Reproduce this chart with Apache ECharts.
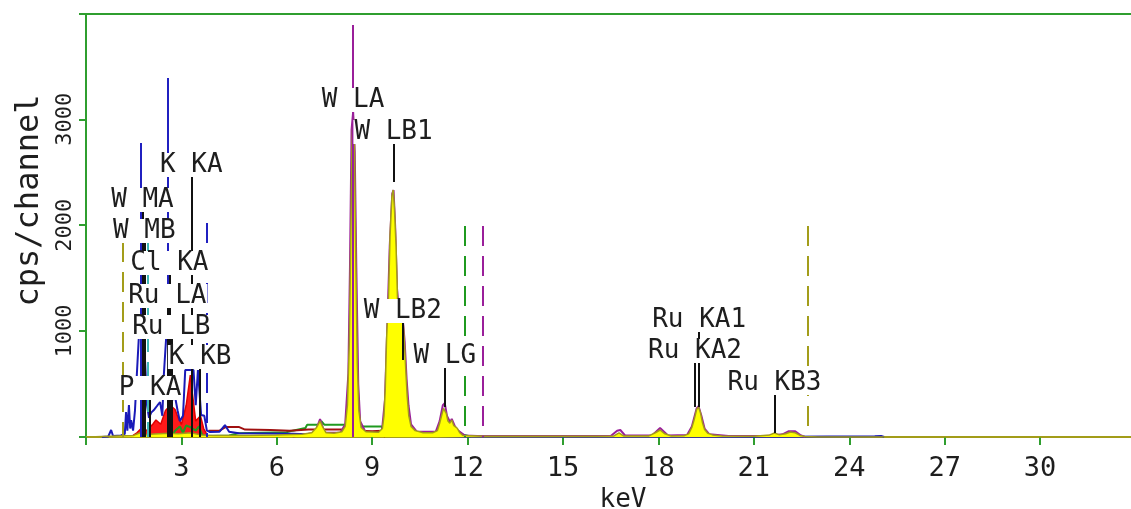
<!DOCTYPE html>
<html>
<head>
<meta charset="utf-8">
<title>EDS spectrum</title>
<script src="https://cdn.jsdelivr.net/npm/echarts@6/dist/echarts.min.js"></script>
<style>
  html, body { margin: 0; padding: 0; background: #fff; overflow: hidden; }
  #chart { width: 1160px; height: 509px; }
</style>
</head>
<body>
<div id="chart"></div>
<script>
// Energy axis ticks (keV) and count axis ticks (cps/channel)
const xTicks = [3, 6, 9, 12, 15, 18, 21, 24, 27, 30];
const yTicks = [1000, 2000, 3000];

// Main spectrum [keV, cps]
const specMain = [
  [0.1,0],[0.5,5],[1.0,10],[1.5,15],[1.7,40],[1.8,45],[1.9,20],[2.0,25],[2.3,30],[2.6,35],[2.9,30],
  [3.3,40],[3.6,20],[4.0,15],[5.0,15],[6.0,20],[6.8,25],[7.1,40],[7.25,90],[7.36,150],[7.45,90],
  [7.55,40],[7.8,35],[8.05,50],[8.15,100],[8.22,300],[8.28,900],[8.32,1750],[8.36,2700],[8.40,3070],
  [8.44,2750],[8.48,1750],[8.53,700],[8.58,250],[8.65,90],[8.8,50],[9.2,45],[9.32,80],[9.37,200],
  [9.41,450],[9.45,920],[9.51,1300],[9.56,1900],[9.62,2280],[9.66,2333],[9.70,2150],[9.75,1800],
  [9.80,1250],[9.84,1100],[9.88,1150],[9.93,1190],[9.98,1050],[10.02,850],[10.06,600],[10.1,380],
  [10.15,200],[10.22,100],[10.35,60],[10.6,40],[10.9,40],[11.05,60],[11.12,130],[11.18,200],
  [11.24,270],[11.28,283],[11.33,220],[11.38,150],[11.44,130],[11.5,160],[11.56,110],[11.62,95],
  [11.68,80],[11.75,40],[11.85,15],[12.5,8],[14,6],[16,6],[16.6,10],[16.76,38],[16.9,10],[17.7,10],
  [17.9,40],[18.05,66],[18.2,30],[18.4,10],[18.8,12],[18.95,30],[19.05,90],[19.12,160],[19.2,260],
  [19.26,283],[19.32,230],[19.38,140],[19.45,70],[19.55,35],[19.7,20],[20,10],[21,8],[21.5,20],
  [21.65,38],[21.8,20],[22.0,30],[22.15,47],[22.3,40],[22.45,15],[22.6,5],[23,0],[33.7,0]
];

// Overlay spectrum (purple)
const specPurple = [
  [6.5,5],[7.2,40],[7.36,170],[7.5,40],[8.0,40],[8.15,120],[8.25,600],[8.3,1600],[8.35,2900],
  [8.40,3070],[8.45,2700],[8.5,1600],[8.56,500],[8.62,150],[8.8,40],[9.3,40],[9.4,350],[9.47,1000],
  [9.55,1800],[9.63,2300],[9.67,2333],[9.72,2000],[9.78,1400],[9.85,1150],[9.95,1150],[10.02,900],
  [10.08,550],[10.14,300],[10.22,120],[10.4,50],[11.0,50],[11.12,150],[11.22,300],[11.28,320],
  [11.35,200],[11.45,140],[11.5,170],[11.6,100],[11.7,60],[11.9,15],[12.3,10],[16.5,10],[16.7,60],
  [16.8,66],[16.95,15],[17.8,15],[18.05,85],[18.3,15],[18.9,20],[19.05,100],[19.2,270],[19.26,290],
  [19.35,200],[19.45,80],[19.6,25],[20.2,10],[21.4,10],[21.9,25],[22.1,55],[22.3,55],[22.45,20],[22.6,0]
];

// Overlay spectrum (blue)
const specBlue = [
  [0.5,0],[0.7,5],[0.79,66],[0.85,10],[1.1,15],[1.22,30],[1.26,236],[1.3,60],[1.35,302],[1.39,80],
  [1.42,160],[1.48,60],[1.54,250],[1.6,600],[1.66,935],[1.8,935],[1.86,700],[1.92,300],[1.98,180],
  [2.05,230],[2.15,260],[2.25,300],[2.33,330],[2.4,200],[2.45,600],[2.52,935],[2.6,935],[2.66,500],
  [2.72,350],[2.8,380],[2.88,250],[2.95,150],[3.05,200],[3.12,633],[3.38,633],[3.45,300],[3.52,633],
  [3.58,633],[3.62,208],[3.72,200],[3.8,60],[3.9,47],[4.2,50],[4.37,113],[4.5,50],[4.8,35],[6.5,30],
  [8.0,15],[9.0,15],[9.35,20],[9.42,230],[9.46,20],[10.0,15],[11.0,10],[12.0,5],[20.7,3],[21.9,3],
  [24.8,8],[25.0,10],[25.1,0]
];

// Overlay spectrum (red, low energy)
const specRed = [
  [1.4,0],[1.6,40],[1.75,85],[1.9,60],[2.1,120],[2.2,160],[2.35,120],[2.5,250],[2.65,300],[2.8,260],
  [2.9,180],[3.0,120],[3.15,300],[3.28,585],[3.35,400],[3.45,150],[3.6,200],[3.7,80],[3.85,0]
];

// Overlay spectrum (dark red)
const specMaroon = [
  [3.85,60],[4.2,60],[4.4,95],[4.8,95],[5.0,70],[5.8,66],[6.4,60],[7.0,70],[8.0,72],[8.5,60],
  [9.0,55],[9.3,60],[9.4,0]
];

// Overlay spectrum (green)
const specGreen = [
  [2.7,0],[2.8,60],[2.95,100],[3.05,40],[3.15,110],[3.3,90],[3.45,60],[3.55,100],[3.65,20],[3.8,10],
  [4.5,15],[4.8,35],[5.5,40],[6.3,45],[6.5,60],[6.9,85],[6.95,115],[7.3,115],[7.4,150],[7.5,115],
  [8.2,115],[8.6,100],[9.3,100],[9.35,30],[10.3,45],[11.0,45],[11.5,40],[11.9,20],[12.1,5]
];

// Peak identification markers: name, energy (keV), label height, line end (cps)
const markNames  = ['W MA','W MB','K KA','Cl KA','Ru LA','Ru LB','K KB','P KA',
                    'W LA','W LB1','W LB2','W LG','Ru KA1','Ru KA2','Ru KB3'];
const markEnergy = [1.775,1.835,3.313,2.622,2.558,2.683,3.59,2.013,
                    8.396,9.67,9.96,11.28,19.28,19.15,21.65];
const markLabelY = [2238,1946,2569,1643,1332,1039,756,463,
                    3183,2880,1190,765,1105,812,510];
const markLineEnd = [0,0,0,0,0,0,0,0,
                     3070,2408,727,283,283,283,38];

// Reference lines: energy (keV), top (cps)
const blueRefs   = [[1.72,2777],[2.57,3391]];
const purpleRefs = [[8.40,3891]];
const redRefs    = [[3.32,1600]];
const dashRefsGreen  = [[11.92,1993]];
const dashRefsPurple = [[12.48,1993]];
const dashRefsOlive  = [[22.70,1993],[1.15,1842]];
const dashRefsBlue   = [[3.80,2021]];
const dashRefsTeal   = [[1.95,1842]];

const FONT = 'DejaVu Sans Mono';
const AXIS_GREEN = '#2f9e2f';
const OLIVE = '#a39d1a';

function vLines(list) {
  return list.map(function (d) { return { coords: [[d[0], d[1]], [d[0], 0]] }; });
}
function lineSeries(name, data, color, z, width) {
  return {
    name: name, type: 'line', data: data, symbol: 'none', z: z,
    lineStyle: { color: color, width: width || 1.5 }, animation: false, silent: true
  };
}
function refSeries(list, color, dashed, z, width) {
  return {
    type: 'lines', coordinateSystem: 'cartesian2d', z: z, silent: true, animation: false,
    lineStyle: { color: color, width: width || 2, type: dashed ? [20, 10] : 'solid', opacity: 1 },
    data: vLines(list)
  };
}

const markLines = markNames.map(function (n, i) {
  return { coords: [[markEnergy[i], markLabelY[i]], [markEnergy[i], markLineEnd[i]]] };
});
const markLabels = markNames.map(function (n, i) {
  return { name: n, value: [markEnergy[i], markLabelY[i]] };
});

const chart = echarts.init(document.getElementById('chart'), null, { renderer: 'canvas' });
chart.setOption({
  animation: false,
  backgroundColor: '#ffffff',
  grid: {
    left: 86, top: 14, right: 0, bottom: 72,
    containLabel: false, outerBoundsMode: 'none', show: false
  },
  xAxis: [{
    type: 'value', min: 0, max: 33.77, interval: 3,
    name: 'keV', nameLocation: 'middle', nameGap: 43,
    nameTextStyle: { fontFamily: FONT, fontSize: 26, color: '#1e1e1e' },
    axisLine: { show: true, lineStyle: { color: OLIVE, width: 2 } },
    axisTick: { show: true, length: 8, lineStyle: { color: AXIS_GREEN, width: 2 } },
    axisLabel: {
      margin: 18, fontFamily: FONT, fontSize: 27, color: '#1e1e1e',
      formatter: function (v) { return xTicks.indexOf(v) >= 0 ? String(v) : ''; }
    },
    splitLine: { show: false }
  }, {
    // plain frame line along the top of the plot
    type: 'value', position: 'top', min: 0, max: 33.77,
    axisLine: { show: true, lineStyle: { color: AXIS_GREEN, width: 2 } },
    axisTick: { show: false }, axisLabel: { show: false }, splitLine: { show: false }
  }],
  yAxis: {
    type: 'value', min: 0, max: 3995, interval: 1000,
    name: 'cps/channel', nameLocation: 'middle', nameGap: 38,
    nameTextStyle: { fontFamily: FONT, fontSize: 32, color: '#1e1e1e', padding: [0, 0, 0, 50] },
    axisLine: { show: true, lineStyle: { color: AXIS_GREEN, width: 2 } },
    axisTick: { show: true, length: 7, lineStyle: { color: AXIS_GREEN, width: 2 } },
    axisLabel: {
      rotate: 90, margin: 10, fontFamily: FONT, fontSize: 22, color: '#1e1e1e',
      formatter: function (v) { return yTicks.indexOf(v) >= 0 ? String(v) : ''; }
    },
    splitLine: { show: false }
  },
  series: [
    lineSeries('green', specGreen, '#1f9a1f', 1, 2),
    lineSeries('maroon', specMaroon, '#a01010', 1, 2),
    Object.assign(lineSeries('red', specRed, '#e00000', 1, 1.5), { areaStyle: { color: '#ff1a1a', opacity: 1 } }),
    lineSeries('blue', specBlue, '#1a1ab8', 1, 2),
    lineSeries('purple', specPurple, '#9a1f9a', 2, 2),
    Object.assign(lineSeries('main', specMain, '#a39d1a', 3, 1.5), { areaStyle: { color: '#ffff00', opacity: 1 } }),
    refSeries(dashRefsGreen, '#1f9a1f', true, 4),
    refSeries(dashRefsPurple, '#9a1f9a', true, 4),
    refSeries(dashRefsOlive, OLIVE, true, 4),
    refSeries(dashRefsBlue, '#2020c0', true, 4),
    refSeries(dashRefsTeal, '#3fb8b8', true, 4),
    refSeries(blueRefs, '#2020c0', false, 4),
    refSeries(purpleRefs, '#9a1f9a', false, 4),
    refSeries(redRefs, '#c00000', false, 4),
    {
      type: 'lines', coordinateSystem: 'cartesian2d', z: 5, silent: true, animation: false,
      lineStyle: { color: '#111111', width: 2, opacity: 1 },
      data: markLines
    },
    {
      type: 'scatter', z: 6, silent: true, animation: false,
      symbolSize: 1, itemStyle: { color: 'rgba(0,0,0,0)' },
      data: markLabels,
      label: {
        show: true, position: 'inside', formatter: '{b}', opacity: 1,
        fontFamily: FONT, fontSize: 26, color: '#1e1e1e',
        backgroundColor: '#ffffff', padding: [1, 1], lineHeight: 22
      }
    }
  ]
});
</script>
</body>
</html>
